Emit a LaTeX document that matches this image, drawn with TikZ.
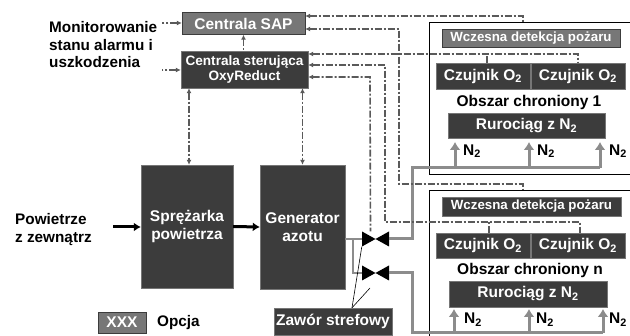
\documentclass[tikz,border=0pt]{standalone}
\usepackage{fontspec}
\setmainfont{Liberation Sans}
\definecolor{oxyDark}{HTML}{3C3C3C}
\definecolor{oxyGray}{HTML}{777777}
\definecolor{oxyPipe}{HTML}{8C8C8C}
\definecolor{oxyLine}{HTML}{5A5A5A}
\usetikzlibrary{
	arrows.meta
}
\tikzset{
	blok/.style={
		draw=oxyDark!70,
		fill=oxyDark,
		text=white,
		align=center,
		inner sep=0pt,
		font=\fontsize{15.5}{18}\selectfont\bfseries
	},
	opcja/.style={
		blok,
		draw=oxyDark,
		fill=oxyGray
	},
	opis/.style={
		align=left,
		inner sep=0pt,
		font=\fontsize{15.3}{17.5}\selectfont\bfseries
	},
	obszar/.style={
		inner sep=0pt,
		font=\fontsize{15.5}{18}\selectfont\bfseries
	},
	zawor/.style={
		minimum width=27pt,
		minimum height=15pt,
		inner sep=0pt,
		path picture={
			\fill[black] (path picture bounding box.north west) -- (path picture bounding box.south east)
				-- (path picture bounding box.north east) -- (path picture bounding box.south west) -- cycle;
		}
	},
	sygnalBez/.style={
		oxyLine,
		line width=1.6pt,
		dash pattern=on 7pt off 2pt on 2pt off 2pt
	},
	sygnal/.style={
		sygnalBez,
		{Latex[length=5pt,width=5pt]}-
	},
	sygnalObustronny/.style={
		sygnalBez,
		{Latex[length=5pt,width=5pt]}-{Latex[length=5pt,width=5pt]}
	},
	powietrze/.style={
		-{Latex[length=7pt,width=9pt]},
		line width=3pt,
		black
	},
	rura/.style={
		oxyPipe,
		line width=3pt
	},
	wylot/.style={
		rura,
		-{Latex[length=8pt,width=11pt]}
	},
	odnosnik/.style={
		black,
		line width=0.6pt
	}
}

\begin{document}
\begin{tikzpicture}[x=1pt,y=-1pt]
		\useasboundingbox[fill=white] (0,0) rectangle (630,336);
		% lewa strona
		\node[opis,anchor=north west] (monitoring) at (49,21.5) {Monitorowanie\\stanu alarmu i\\uszkodzenia};
		\node[opis,anchor=north west] (wejscie) at (15,213.5) {Powietrze\\z zewnątrz};
		\node[opcja,minimum width=48pt,minimum height=21pt] (xxx) at (122,322.5) {XXX};
		\node[opis,anchor=west] (legenda) at (157,323) {Opcja};
		% centrale
		\node[opcja,minimum width=123pt,minimum height=22pt] (sap) at (243.5,23.5) {Centrala SAP};
		\node[blok,minimum width=127pt,minimum height=37pt,font=\fontsize{13.6}{15}\selectfont\bfseries] (centrala) at (244.5,69.5) {Centrala sterująca\\OxyReduct};
		\node[blok,minimum width=92pt,minimum height=123pt] (sprezarka) at (187,226.5) {Sprężarka\\powietrza};
		\node[blok,minimum width=85pt,minimum height=124pt] (generator) at (302.5,227) {Generator\\azotu};
		% zawory
		\node[zawor] (zaworA) at (375.5,239) {};
		\node[zawor] (zaworB) at (375.5,273) {};
		\node[blok,minimum width=118pt,minimum height=27pt] (strefowy) at (333,321.5) {Zawór strefowy};
		% obszar 1
		\draw[thick] (630,22) -- (429,22) -- (429,174) -- (630,174);
		\node[opcja,minimum width=178pt,minimum height=18pt,font=\fontsize{13.3}{14}\selectfont\bfseries] (detekcjaA) at (531,38) {Wczesna detekcja pożaru};
		\node[blok,minimum width=94pt,minimum height=26pt] (czujnikA) at (483,76) {Czujnik O\textsubscript{2}};
		\node[blok,minimum width=94pt,minimum height=26pt] (czujnikB) at (578,76) {Czujnik O\textsubscript{2}};
		\node[obszar] (obszarA) at (529,102.5) {Obszar chroniony 1};
		\node[blok,minimum width=157pt,minimum height=25pt] (rurociagA) at (526.5,125.5) {Rurociąg z N\textsubscript{2}};
		\node[obszar] (azotA) at (472,151) {N\textsubscript{2}};
		\node[obszar] (azotB) at (546,151) {N\textsubscript{2}};
		\node[obszar] (azotC) at (618,151) {N\textsubscript{2}};
		% obszar n
		\draw[thick] (630,190) -- (429,190) -- (429,336);
		\node[blok,minimum width=179pt,minimum height=19pt,font=\fontsize{13.3}{14}\selectfont\bfseries] (detekcjaB) at (531.5,206.5) {Wczesna detekcja pożaru};
		\node[blok,minimum width=94pt,minimum height=25pt] (czujnikC) at (483,245.5) {Czujnik O\textsubscript{2}};
		\node[blok,minimum width=94pt,minimum height=25pt] (czujnikD) at (578,245.5) {Czujnik O\textsubscript{2}};
		\node[obszar] (obszarB) at (530,270) {Obszar chroniony n};
		\node[blok,minimum width=158pt,minimum height=26pt] (rurociagB) at (528,294) {Rurociąg z N\textsubscript{2}};
		\node[obszar] (azotD) at (473,319.5) {N\textsubscript{2}};
		\node[obszar] (azotE) at (545,319.5) {N\textsubscript{2}};
		\node[obszar] (azotF) at (618,319.5) {N\textsubscript{2}};
		% punkty pomocnicze
		\coordinate (wlot) at (113,227);
		\coordinate (alarmA) at (162,23);
		\coordinate (alarmB) at (162,70);
		\coordinate (rozgalezienie) at (353,239);
		\coordinate (wylotA) at (455,168);
		\coordinate (wylotB) at (529,168);
		\coordinate (wylotC) at (600,168);
		\coordinate (wylotD) at (454,333);
		\coordinate (wylotE) at (529,333);
		\coordinate (wylotF) at (603,333);
		\coordinate (celA) at (455,142);
		\coordinate (celB) at (529,142);
		\coordinate (celC) at (600,142);
		\coordinate (celD) at (454,309);
		\coordinate (celE) at (529,309);
		\coordinate (celF) at (603,309);
		\coordinate (wskazanie) at (370,288);
		% powietrze i azot
		\draw[powietrze] (wlot) -- (wlot -| sprezarka.west);
		\draw[powietrze] (sprezarka.east) -- (generator.west);
		\draw[rura,line width=2pt] (generator.east |- zaworA) -- (zaworA.west);
		\draw[rura,line width=2pt] (rozgalezienie) -- (rozgalezienie |- zaworB) -- (zaworB.west);
		\draw[rura] (zaworA.east) -- (412,239) -- (412,168) -- (wylotC);
		\draw[rura] (zaworB.east) -- (412,273) -- (412,333) -- (wylotF);
		\draw[wylot] (wylotA) -- (celA);
		\draw[wylot] (wylotB) -- (celB);
		\draw[wylot] (wylotC) -- (celC);
		\draw[wylot] (wylotD) -- (celD);
		\draw[wylot] (wylotE) -- (celE);
		\draw[wylot] (wylotF) -- (celF);
		% sygnaly
		\draw[sygnal] (sap.west |- alarmA) -- (alarmA);
		\draw[sygnal] (centrala.west |- alarmB) -- (alarmB);
		\draw[sygnal] (sap.south) -- (centrala.north -| sap.south);
		\draw[sygnalObustronny] (centrala.south -| 189,0) -- (sprezarka.north -| 189,0);
		\draw[sygnalObustronny] (centrala.south -| generator.north) -- (generator.north);
		\draw[sygnal] (sap.east |- 0,16) -- (523,16) -- (523,22);
		\draw[sygnal] (sap.east |- 0,29) -- (399,29) -- (399,184) -- (523,184) -- (523,190);
		\draw[sygnal] (centrala.east |- 0,54) -- (578,54) -- (czujnikB.north -| 578,0);
		\draw[sygnal] (centrala.east |- 0,65) -- (385,65) -- (385,222) -- (580,222) -- (czujnikD.north -| 580,0);
		\draw[sygnal] (centrala.east |- 0,77) -- (370,77) -- ([xshift=-5pt]zaworA.north);
		\draw[sygnalBez] (czujnikA.north -| 487,0) -- (487,54);
		\draw[sygnalBez] (czujnikC.north -| 489,0) -- (489,222);
		% odnosniki zaworow
		\draw[odnosnik] ([xshift=19pt]strefowy.north) -- (zaworA.south west);
		\draw[odnosnik] ([xshift=19pt]strefowy.north) -- (wskazanie);
	\end{tikzpicture}
\end{document}
